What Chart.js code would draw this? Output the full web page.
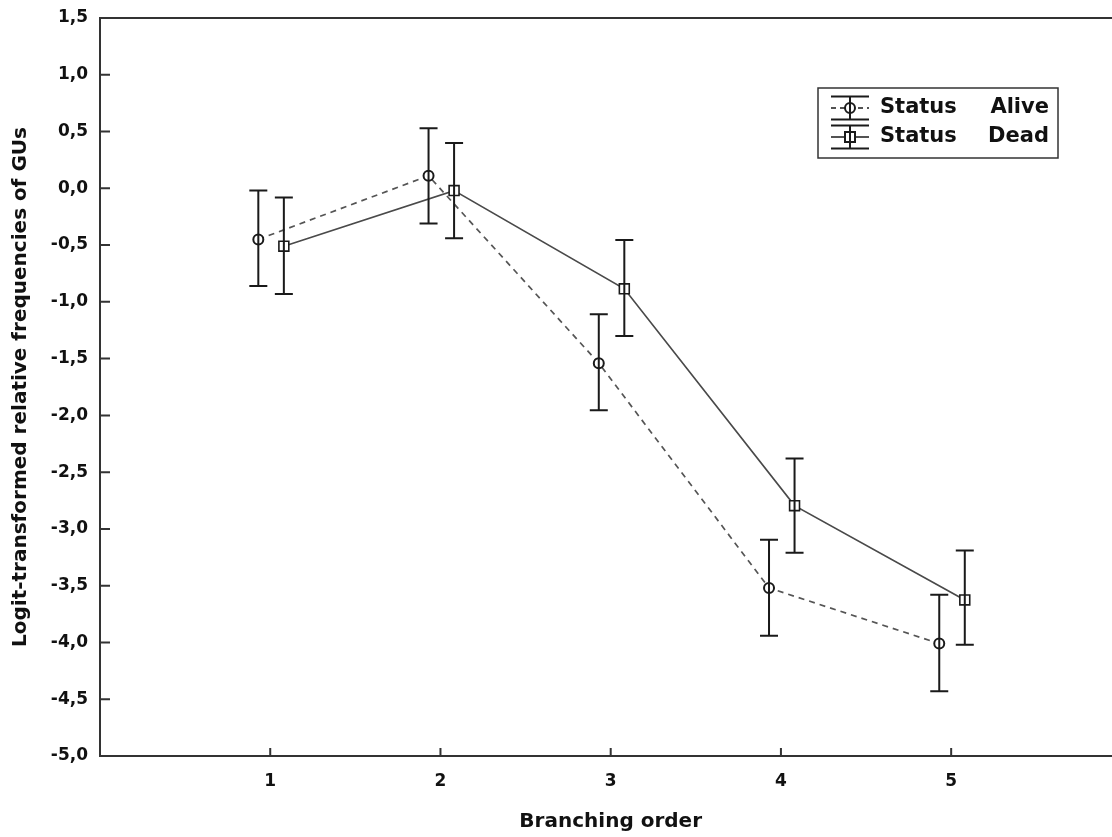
<!DOCTYPE html>
<html>
<head>
<meta charset="utf-8">
<title>Logit-transformed relative frequencies of GUs</title>
<script src="https://cdn.jsdelivr.net/npm/chart.js@4.4.1/dist/chart.umd.min.js"></script>
<style>
  html, body { margin: 0; padding: 0; background: #fff; overflow: hidden; }
  canvas { display: block; }
</style>
</head>
<body>
<canvas id="chart" width="1130" height="837"></canvas>
<script>
/* ================= DATA ================= */
const orders = [1, 2, 3, 4, 5];
const seriesNames = ["Alive", "Dead"];

const aliveMean = [-0.45, 0.11, -1.54, -3.52, -4.01];
const aliveLow  = [-0.86, -0.31, -1.955, -3.94, -4.43];
const aliveHigh = [-0.02, 0.53, -1.11, -3.095, -3.58];

const deadMean = [-0.51, -0.02, -0.885, -2.795, -3.625];
const deadLow  = [-0.93, -0.44, -1.30, -3.21, -4.02];
const deadHigh = [-0.08, 0.40, -0.455, -2.38, -3.19];

const yTickMin = -5.0;
const yTickMax = 1.5;
const yTickStep = 0.5;

/* ================= STYLE ================= */
const FONT = "'DejaVu Sans', 'Liberation Sans', Arial, sans-serif";
const INK = "#111";
const AXIS = "#333";
const ALIVE_SHIFT = -0.07;   // points are nudged apart around each order
const DEAD_SHIFT = 0.08;

function points(mean, low, high, shift) {
  return orders.map((o, i) => ({ x: o + shift, y: mean[i], low: low[i], high: high[i] }));
}

/* ================= PLUGINS ================= */
// vertical error bars with caps
const errorBars = {
  id: "errorBars",
  afterDatasetsDraw(chart) {
    const { ctx, scales: { x, y } } = chart;
    ctx.save();
    ctx.strokeStyle = "#1a1a1a";
    ctx.lineWidth = 2;
    chart.data.datasets.forEach(ds => {
      ds.data.forEach(p => {
        const px = x.getPixelForValue(p.x);
        const top = y.getPixelForValue(p.high);
        const bot = y.getPixelForValue(p.low);
        ctx.beginPath();
        ctx.moveTo(px, top); ctx.lineTo(px, bot);
        ctx.moveTo(px - 9, top); ctx.lineTo(px + 9, top);
        ctx.moveTo(px - 9, bot); ctx.lineTo(px + 9, bot);
        ctx.stroke();
      });
    });
    ctx.restore();
  }
};

// top frame line and inward tick marks
const frame = {
  id: "frame",
  afterDraw(chart) {
    const { ctx, chartArea: a, scales: { x, y } } = chart;
    ctx.save();
    ctx.strokeStyle = AXIS;
    ctx.lineWidth = 2;
    ctx.beginPath();
    ctx.moveTo(a.left - 1, a.top); ctx.lineTo(a.right + 10, a.top);
    y.ticks.forEach(t => {
      const py = y.getPixelForValue(t.value);
      ctx.moveTo(a.left, py); ctx.lineTo(a.left + 10, py);
    });
    x.ticks.forEach(t => {
      if (t.value < orders[0] || t.value > orders[orders.length - 1]) return;
      const px = x.getPixelForValue(t.value);
      ctx.moveTo(px, a.bottom); ctx.lineTo(px, a.bottom - 8);
    });
    ctx.stroke();
    ctx.restore();
  }
};

// legend box in the upper right
const legendBox = {
  id: "legendBox",
  afterDraw(chart) {
    const ctx = chart.ctx;
    const bx = 818, by = 88, bw = 240, bh = 70;
    ctx.save();
    ctx.strokeStyle = AXIS;
    ctx.lineWidth = 1.5;
    ctx.strokeRect(bx, by, bw, bh);

    const rows = [
      { name: seriesNames[0], cy: 108, dash: [5, 4], marker: "circle" },
      { name: seriesNames[1], cy: 137, dash: [], marker: "rect" }
    ];
    const sx0 = 831, sx1 = 869, sxc = 850;
    rows.forEach(r => {
      ctx.strokeStyle = "#1a1a1a";
      ctx.lineWidth = 2;
      ctx.setLineDash([]);
      ctx.beginPath();
      ctx.moveTo(sx0, r.cy - 11.5); ctx.lineTo(sx1, r.cy - 11.5);
      ctx.moveTo(sx0, r.cy + 11.5); ctx.lineTo(sx1, r.cy + 11.5);
      ctx.moveTo(sxc, r.cy - 11.5); ctx.lineTo(sxc, r.cy + 11.5);
      ctx.stroke();

      ctx.lineWidth = 1.5;
      ctx.setLineDash(r.dash);
      ctx.beginPath();
      ctx.moveTo(sx0, r.cy); ctx.lineTo(sx1, r.cy);
      ctx.stroke();
      ctx.setLineDash([]);

      ctx.fillStyle = "#fff";
      ctx.lineWidth = 2;
      ctx.beginPath();
      if (r.marker === "circle") ctx.arc(sxc, r.cy, 5, 0, Math.PI * 2);
      else ctx.rect(sxc - 5, r.cy - 5, 10, 10);
      ctx.fill();
      ctx.stroke();
      ctx.beginPath();
      ctx.moveTo(sxc, r.cy - 5); ctx.lineTo(sxc, r.cy + 5);
      ctx.stroke();

      ctx.fillStyle = INK;
      ctx.font = "bold 21px " + FONT;
      ctx.textBaseline = "middle";
      ctx.textAlign = "left";
      ctx.fillText("Status", 880, r.cy);
      ctx.textAlign = "right";
      ctx.fillText(r.name, 1049, r.cy);
    });
    ctx.restore();
  }
};

/* ================= CHART ================= */
new Chart(document.getElementById("chart"), {
  type: "scatter",
  data: {
    datasets: [
      {
        label: "Status Alive",
        data: points(aliveMean, aliveLow, aliveHigh, ALIVE_SHIFT),
        showLine: true,
        borderColor: "#555",
        borderWidth: 1.7,
        borderDash: [6, 5],
        pointStyle: "circle",
        pointRadius: 5,
        pointBorderWidth: 2,
        pointBorderColor: "#1a1a1a",
        pointBackgroundColor: "#fff"
      },
      {
        label: "Status Dead",
        data: points(deadMean, deadLow, deadHigh, DEAD_SHIFT),
        showLine: true,
        borderColor: "#4a4a4a",
        borderWidth: 1.7,
        pointStyle: "rect",
        pointRadius: 7,
        pointBorderWidth: 1.6,
        pointBorderColor: "#1a1a1a",
        pointBackgroundColor: "#fff"
      }
    ]
  },
  options: {
    responsive: false,
    animation: false,
    devicePixelRatio: 1,
    layout: { padding: { top: 18, right: 8, left: 0, bottom: 0 } },
    plugins: {
      legend: { display: false },
      tooltip: { enabled: false }
    },
    scales: {
      x: {
        type: "linear",
        min: 0,
        max: 6,
        afterFit: s => { s.height = 81; s.paddingLeft = 0; s.paddingRight = 0; },
        grid: { display: false, drawTicks: false },
        border: { display: true, color: AXIS, width: 2 },
        ticks: {
          stepSize: 1,
          padding: 15,
          color: INK,
          font: { family: FONT, size: 17, weight: "bold" },
          callback: v => (orders.includes(v) ? String(v) : "")
        },
        title: {
          display: true,
          text: "Branching order",
          color: INK,
          font: { family: FONT, size: 20, weight: "bold" },
          padding: { top: 0, bottom: 3 }
        }
      },
      y: {
        min: yTickMin,
        max: yTickMax,
        afterFit: s => { s.width = 100; s.paddingTop = 0; s.paddingBottom = 0; },
        grid: { display: false, drawTicks: false },
        border: { display: true, color: AXIS, width: 2 },
        ticks: {
          stepSize: yTickStep,
          padding: 12,
          color: INK,
          font: { family: FONT, size: 17, weight: "bold" },
          callback: v => v.toFixed(1).replace(".", ",")
        },
        title: {
          display: true,
          text: "Logit-transformed relative frequencies of GUs",
          color: INK,
          font: { family: FONT, size: 20, weight: "bold" },
          padding: { top: 9, bottom: 0 }
        }
      }
    }
  },
  plugins: [errorBars, frame, legendBox]
});
</script>
</body>
</html>
